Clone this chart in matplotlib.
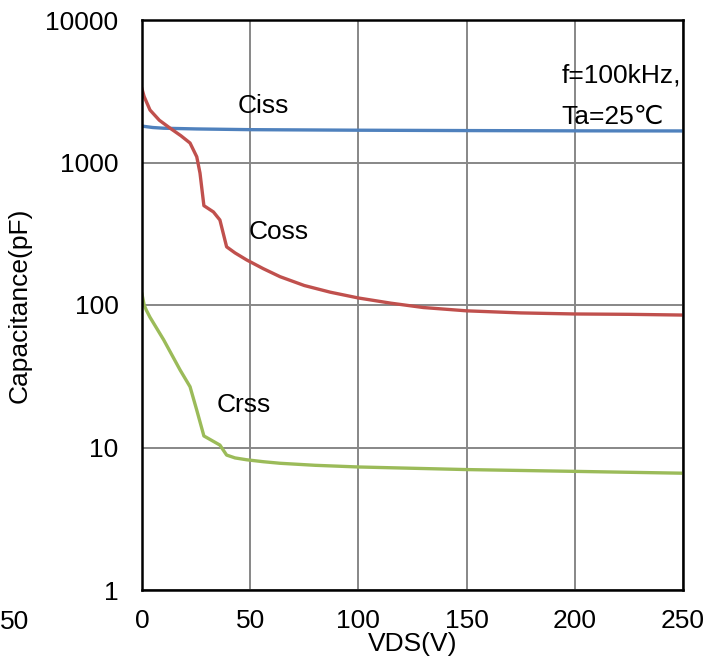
import matplotlib.pyplot as plt
import numpy as np

plt.rcParams['font.family'] = ['Liberation Sans', 'DejaVu Sans']

vds_ciss = [0, 5, 10, 25, 50, 100, 150, 200, 250]
ciss = [1800, 1760, 1740, 1720, 1700, 1685, 1675, 1668, 1665]

vds_coss = [0, 1, 3.7, 8, 12.9, 18, 22.2, 25.3, 26.8, 28.6, 33, 36, 39.1, 43, 48.4, 56, 63.8,
            75, 87, 100, 115, 130, 150, 175, 200, 225, 250]
coss = [3280, 2900, 2335, 1980, 1745, 1540, 1370, 1097, 843, 498, 450, 395, 256, 232, 207, 180, 158,
        137, 123, 112, 103, 96, 91, 88, 86.5, 86, 85]

vds_crss = [0, 1, 2, 3.7, 10, 17.6, 22.2, 25.3, 28.6, 36, 39.1, 43, 48.4, 56, 63.8,
            80, 100, 150, 200, 250]
crss = [119, 100, 92, 82, 57, 35, 26.7, 18.3, 12.05, 10.4, 8.85, 8.45, 8.2, 7.95, 7.75,
        7.5, 7.3, 7.0, 6.8, 6.6]

fig = plt.figure(figsize=(7.2, 6.64), dpi=100)
ax = fig.add_axes([142/720, 74/664, 541/720, 570/664])

ax.plot(vds_ciss, ciss, color='#4F81BD', lw=2.4)
ax.plot(vds_coss, coss, color='#C0504D', lw=2.4)
ax.plot(vds_crss, crss, color='#9BBB59', lw=2.4)

ax.set_yscale('log')
ax.set_xlim(0, 250)
ax.set_ylim(1, 10000)
ax.set_xticks([0, 50, 100, 150, 200, 250])
ax.set_yticks([1, 10, 100, 1000, 10000])
ax.set_yticklabels(['1', '10', '100', '1000', '10000'])
ax.minorticks_off()
ax.tick_params(axis='y', length=0, labelsize=19, pad=17)
ax.tick_params(axis='x', length=0, labelsize=19, pad=14)
ax.grid(True, color='#878787', lw=1.4)
ax.set_axisbelow(True)
for s in ax.spines.values():
    s.set_color('black')
    s.set_linewidth(1.8)

ax.set_xlabel('VDS(V)', fontsize=19, labelpad=-1)
ax.set_ylabel('Capacitance(pF)', fontsize=19, labelpad=10)

ax.text(56, 2500, 'Ciss', fontsize=19, ha='center', va='center')
ax.text(63, 325, 'Coss', fontsize=19, ha='center', va='center')
ax.text(47, 20, 'Crss', fontsize=19, ha='center', va='center')
ax.text(249, 4110, 'f=100kHz,', fontsize=19, ha='right', va='center')
ax.text(194, 2085, 'Ta=25℃', fontsize=19, ha='left', va='center')

# leftover label from a neighbouring chart
fig.text(0, 1 - 622/664, '50', fontsize=19, va='center')

fig.savefig('out.png', dpi=100)
